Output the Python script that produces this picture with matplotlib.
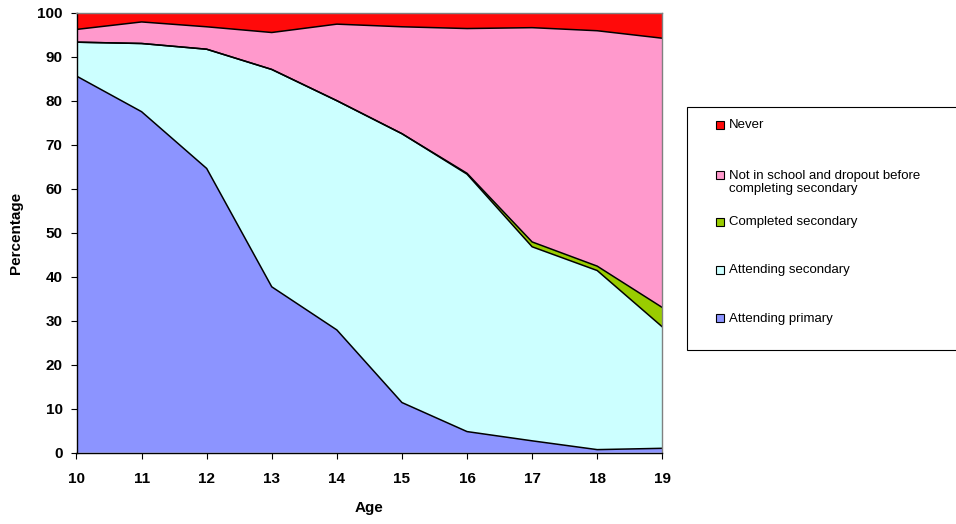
import matplotlib
matplotlib.use('Agg')
import matplotlib.pyplot as plt
from matplotlib.patches import Rectangle
import numpy as np

plt.rcParams['font.family'] = ['Liberation Sans', 'DejaVu Sans']

ages = [10, 11, 12, 13, 14, 15, 16, 17, 18, 19]
primary = [85.6, 77.5, 64.6, 37.7, 27.9, 11.4, 4.8, 2.7, 0.7, 1.0]
secondary = [7.7, 15.5, 27.1, 49.4, 52.1, 61.1, 58.5, 44.1, 40.7, 27.6]
completed = [0.0, 0.0, 0.0, 0.0, 0.0, 0.0, 0.2, 1.1, 1.0, 4.4]
dropout = [2.9, 4.9, 5.1, 8.4, 17.4, 24.3, 32.9, 48.7, 53.5, 61.2]
never = [3.8, 2.1, 3.2, 4.5, 2.6, 3.2, 3.6, 3.4, 4.1, 5.8]

labels = ['Attending primary', 'Attending secondary', 'Completed secondary',
          'Not in school and dropout before\ncompleting secondary', 'Never']
colors = ['#8C94FF', '#CCFFFF', '#99CC00', '#FF99CC', '#FF0A0A']
series = [primary, secondary, completed, dropout, never]

W, H = 956, 524
fig = plt.figure(figsize=(W / 100, H / 100), dpi=100)
ax = fig.add_axes([76.5 / W, 1 - 452.7 / H, (662.3 - 76.5) / W, (452.7 - 12.7) / H])

ax.stackplot(ages, *series, colors=colors, linewidth=0)
cum = np.cumsum(np.array(series), axis=0)
for row in cum[:-1]:
    ax.plot(ages, row, color='black', lw=1.1)

ax.set_xlim(10, 19)
ax.set_ylim(0, 100)
ax.set_xticks(ages)
ax.set_yticks(range(0, 101, 10))
ax.tick_params(direction='out', length=4, width=0.8, labelsize=11)
ax.tick_params(axis='x', pad=10)
ax.tick_params(axis='y', pad=6)
for t in ax.get_xticklabels() + ax.get_yticklabels():
    t.set_fontweight('bold')
ax.spines['left'].set_color('black')
ax.spines['bottom'].set_color('black')
ax.spines['top'].set_color('#808080')
ax.spines['right'].set_color('#808080')
for s in ax.spines.values():
    s.set_linewidth(1.0)

ax.set_xlabel('Age', fontsize=11, fontweight='bold', labelpad=11)
ax.set_ylabel('Percentage', fontsize=11, fontweight='bold', labelpad=10)

# legend box drawn by hand (Excel style)
fig.patches.append(Rectangle((686.7 / W, 1 - 350 / H), (965 - 686.7) / W, (350 - 107) / H,
                             transform=fig.transFigure, facecolor='white',
                             edgecolor='black', lw=0.8))
leg_y = [125, 175, 221.7, 270, 318.3]
for lab, col, y in zip(labels[::-1], colors[::-1], leg_y):
    fig.patches.append(Rectangle((715.5 / W, 1 - (y + 4) / H), 8 / W, 8 / H,
                                 transform=fig.transFigure, facecolor=col,
                                 edgecolor='black', lw=0.8))
    fig.text(728.7 / W, 1 - (y - 5.5) / H, lab, fontsize=9.5, va='top', ha='left',
             linespacing=1.2)

fig.savefig('out.png', dpi=100)
